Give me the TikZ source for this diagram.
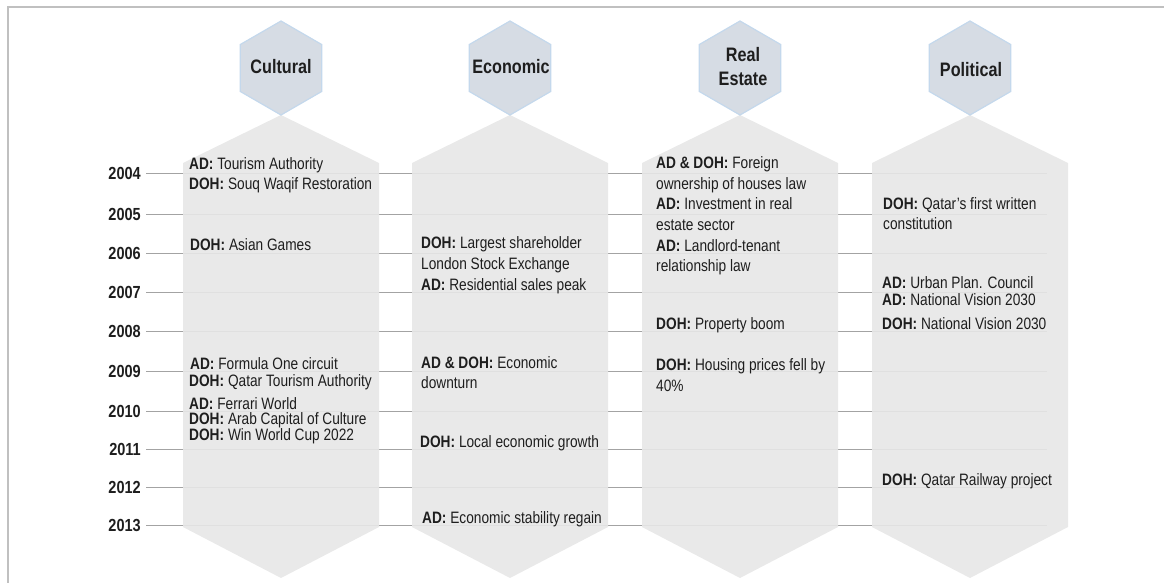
\documentclass[tikz,border=0pt]{standalone}
\usepackage{fontspec}
\setmainfont[FakeStretch=0.83]{Liberation Sans}
\definecolor{txt}{HTML}{1E1E1E}
\definecolor{colfill}{HTML}{E7E7E7}
\definecolor{hexfill}{HTML}{D6DCE4}
\definecolor{hexedge}{HTML}{C4D8EC}
\definecolor{linegray}{HTML}{A3A3A3}
\definecolor{framegray}{HTML}{C0C0C0}
\newcommand\ev[4]{\node[evt] (#1) at (#2,#3+6) {#4};}
\begin{document}
\begin{tikzpicture}[x=1pt,y=-1pt,
  hexa/.style={fill=hexfill, draw=hexedge, line width=1.2pt},
  column/.style={fill=colfill, fill opacity=0.9},
  yearlbl/.style={anchor=east, font=\fontsize{17.5}{20}\selectfont\bfseries, text=txt, inner sep=0pt},
  evt/.style={anchor=base west, font=\fontsize{16.5}{20}\selectfont, text=txt, inner sep=0pt},
  head/.style={font=\fontsize{19.5}{22}\selectfont\bfseries, align=center, text=txt, inner sep=0pt},
  yline/.style={draw=linegray, line width=0.9pt},
  frame/.style={draw=framegray, line width=2pt}]
\useasboundingbox (0,0) rectangle (1164,583);
% frame
\coordinate (fA) at (1164,7);
\coordinate (fB) at (8,7);
\coordinate (fC) at (8,583);
\draw[frame] (fA) -- (fB) -- (fC);
% years and lines
\foreach \yr/\yy in {2004/173,2005/214,2006/253,2007/292,2008/331,2009/371,2010/411,2011/449,2012/487,2013/525}{
  \node[yearlbl] (y\yr) at (141,\yy) {\yr};
  \coordinate (e\yr) at (1047,\yy);
  \draw[yline] ([xshift=5pt]y\yr.east) -- (e\yr);
}
% columns and hexagons
\foreach \n/\cx in {cul/281,eco/510,rea/740,pol/970}{
  \path[column] (\cx,115) -- (\cx+98,163) -- (\cx+98,527) -- (\cx,578) -- (\cx-98,527) -- (\cx-98,163) -- cycle;
  \path[hexa] (\cx,21) -- (\cx+40.7,44.5) -- (\cx+40.7,91.5) -- (\cx,115) -- (\cx-40.7,91.5) -- (\cx-40.7,44.5) -- cycle;
}
% headers
\node[head] (hcul) at (281,67) {Cultural};
\node[head] (heco) at (511,67) {Economic};
\node[head] (hrea) at (743,67) {Real\\[2pt]Estate};
\node[head] (hpol) at (971,70) {Political};
% Cultural
\ev{c1}{189}{163}{\textbf{AD:} Tourism Authority}
\ev{c2}{189}{183}{\textbf{DOH:} Souq Waqif Restoration}
\ev{c3}{190}{244}{\textbf{DOH:} Asian Games}
\ev{c4}{190}{363}{\textbf{AD:} Formula One circuit}
\ev{c5}{189}{380}{\textbf{DOH:} Qatar Tourism Authority}
\ev{c6}{189}{403}{\textbf{AD:} Ferrari World}
\ev{c7}{189}{418}{\textbf{DOH:} Arab Capital of Culture}
\ev{c8}{189}{434}{\textbf{DOH:} Win World Cup 2022}
% Economic
\ev{e1}{421}{242}{\textbf{DOH:} Largest shareholder}
\ev{e2}{421}{263}{London Stock Exchange}
\ev{e3}{421}{284}{\textbf{AD:} Residential sales peak}
\ev{e4}{421}{362}{\textbf{AD \& DOH:} Economic}
\ev{e5}{421}{382}{downturn}
\ev{e6}{420}{441}{\textbf{DOH:} Local economic growth}
\ev{e7}{422}{517}{\textbf{AD:} Economic stability regain}
% Real Estate
\ev{r1}{656}{162}{\textbf{AD \& DOH:} Foreign}
\ev{r2}{656}{183}{ownership of houses law}
\ev{r3}{656}{203}{\textbf{AD:} Investment in real}
\ev{r4}{656}{224}{estate sector}
\ev{r5}{656}{245}{\textbf{AD:} Landlord-tenant}
\ev{r6}{656}{265}{relationship law}
\ev{r7}{656}{323}{\textbf{DOH:} Property boom}
\ev{r8}{656}{364}{\textbf{DOH:} Housing prices fell by}
\ev{r9}{656}{385}{40\%}
% Political
\ev{p1}{883}{203}{\textbf{DOH:} Qatar's first written}
\ev{p2}{883}{223}{constitution}
\ev{p3}{882}{282}{\textbf{AD:} Urban Plan. Council}
\ev{p4}{882}{299}{\textbf{AD:} National Vision 2030}
\ev{p5}{882}{323}{\textbf{DOH:} National Vision 2030}
\ev{p6}{882}{479}{\textbf{DOH:} Qatar Railway project}
\end{tikzpicture}
\end{document}
